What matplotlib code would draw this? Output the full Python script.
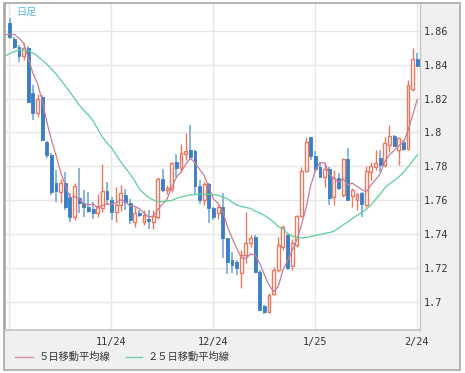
import matplotlib
matplotlib.use("Agg")
import matplotlib.pyplot as plt
import numpy as np
from matplotlib.patches import Rectangle
from matplotlib.lines import Line2D

# ---------------- data ----------------
opens = [1.8646, 1.855, 1.8505, 1.845, 1.8499, 1.8234, 1.8116, 1.8207, 1.7946, 1.7868,
         1.7705, 1.7652, 1.7705, 1.7622, 1.7505, 1.7613, 1.7587, 1.7564, 1.7548, 1.7525,
         1.7554, 1.7658, 1.7603, 1.7534, 1.7574, 1.7632, 1.7583, 1.7475, 1.7527, 1.7475,
         1.7494, 1.7475, 1.7504, 1.7729, 1.7661, 1.7665, 1.7824, 1.7794, 1.7876, 1.7896,
         1.789, 1.7684, 1.7602, 1.7696, 1.7553, 1.7524, 1.756, 1.7378, 1.725, 1.724,
         1.7172, 1.728, 1.735, 1.7387, 1.7181, 1.6979, 1.6946, 1.705, 1.7191, 1.7327,
         1.7397, 1.7215, 1.7338, 1.7509, 1.7775, 1.7972, 1.7862, 1.7799, 1.774, 1.7783,
         1.7622, 1.7731, 1.7632, 1.7842, 1.7626, 1.7603, 1.7642, 1.7574, 1.7769, 1.7795,
         1.7852, 1.7809, 1.7926, 1.7979, 1.7897, 1.7946, 1.7901, 1.8255, 1.8431]
highs = [1.8672, 1.856, 1.8515, 1.8525, 1.8509, 1.828, 1.8226, 1.8219, 1.7952, 1.7877,
         1.7779, 1.7725, 1.7766, 1.7644, 1.7701, 1.7789, 1.7662, 1.7648, 1.7591, 1.764,
         1.7815, 1.7711, 1.7622, 1.7681, 1.769, 1.767, 1.7607, 1.7564, 1.7543, 1.7543,
         1.7543, 1.7543, 1.7739, 1.7788, 1.769, 1.7827, 1.7876, 1.7935, 1.7998, 1.8043,
         1.7896, 1.772, 1.771, 1.77, 1.7563, 1.7573, 1.7642, 1.7378, 1.7297, 1.725,
         1.7309, 1.7534, 1.7397, 1.7397, 1.7191, 1.6985, 1.7056, 1.7211, 1.7387, 1.7456,
         1.7409, 1.7372, 1.7515, 1.7799, 1.7972, 1.7975, 1.7893, 1.7828, 1.7819, 1.7799,
         1.7779, 1.776, 1.7848, 1.7907, 1.7672, 1.7646, 1.7652, 1.7803, 1.7828, 1.7897,
         1.7897, 1.7975, 1.8044, 1.7985, 1.7975, 1.7956, 1.8309, 1.8495, 1.8469]
lows = [1.8548, 1.849, 1.8417, 1.8426, 1.8174, 1.8074, 1.8089, 1.7948, 1.7848, 1.7632,
        1.7593, 1.7587, 1.7544, 1.7475, 1.7485, 1.7525, 1.7505, 1.7526, 1.7493, 1.7505,
        1.7534, 1.7574, 1.7485, 1.7475, 1.754, 1.7546, 1.7462, 1.7446, 1.75, 1.7455,
        1.7435, 1.7435, 1.7494, 1.7651, 1.7641, 1.7651, 1.7739, 1.7769, 1.7837, 1.7837,
        1.7641, 1.7582, 1.7573, 1.7465, 1.7484, 1.7494, 1.726, 1.7168, 1.7173, 1.7162,
        1.7084, 1.7232, 1.7326, 1.7173, 1.695, 1.6932, 1.694, 1.7044, 1.7181, 1.7309,
        1.7191, 1.7191, 1.7326, 1.7503, 1.7769, 1.7838, 1.7769, 1.7731, 1.7681, 1.7574,
        1.7574, 1.7662, 1.7623, 1.7603, 1.7564, 1.7544, 1.7505, 1.7564, 1.7721, 1.7779,
        1.7769, 1.7799, 1.7887, 1.7916, 1.7809, 1.7893, 1.7897, 1.8245, 1.8387]
closes = [1.856, 1.8503, 1.845, 1.850, 1.8181, 1.8113, 1.8197, 1.7956, 1.7868, 1.7652,
          1.7656, 1.7705, 1.7564, 1.7505, 1.7685, 1.7584, 1.756, 1.754, 1.7525, 1.7567,
          1.7658, 1.7607, 1.7534, 1.7574, 1.7646, 1.7593, 1.7485, 1.7525, 1.7512, 1.7514,
          1.7478, 1.7508, 1.7729, 1.7661, 1.7676, 1.7822, 1.7794, 1.788, 1.7892, 1.7857,
          1.7684, 1.7602, 1.7696, 1.7553, 1.7504, 1.7559, 1.7378, 1.7238, 1.722, 1.7201,
          1.728, 1.735, 1.738, 1.7181, 1.6956, 1.6946, 1.7044, 1.7191, 1.7338, 1.7446,
          1.7201, 1.735, 1.7509, 1.7775, 1.7946, 1.7862, 1.7784, 1.774, 1.7783, 1.7613,
          1.7731, 1.7672, 1.7842, 1.7603, 1.7662, 1.7636, 1.7579, 1.7775, 1.7803, 1.7819,
          1.7809, 1.7936, 1.7979, 1.7921, 1.7969, 1.7901, 1.8279, 1.8431, 1.8391]
# closes of the five sessions before the visible window (for the 5-day average)
prior_closes = [1.853, 1.8523, 1.855, 1.865, 1.8617]

# 25-day moving average (from the session before the window)
ma25 = [1.845, 1.8465, 1.8476, 1.8485, 1.8486, 1.8479, 1.8468, 1.8450, 1.8426, 1.8403,
        1.8374, 1.8344, 1.8309, 1.8274, 1.8238, 1.8200, 1.8162, 1.8129, 1.8103, 1.8068,
        1.8021, 1.7974, 1.7938, 1.7909, 1.7868, 1.7826, 1.7791, 1.7756, 1.7715, 1.7668,
        1.7641, 1.7618, 1.7603, 1.7594, 1.7593, 1.7597, 1.7601, 1.7612, 1.7621, 1.7626,
        1.7632, 1.7635, 1.7638, 1.7638, 1.7636, 1.7634, 1.7631, 1.7621, 1.7611, 1.7591,
        1.7574, 1.7565, 1.7559, 1.7553, 1.7538, 1.7526, 1.7512, 1.7494, 1.7474, 1.7447,
        1.7432, 1.7406, 1.7391, 1.7382, 1.7379, 1.7382, 1.7388, 1.7394, 1.7400, 1.7406,
        1.7412, 1.7418, 1.7438, 1.7456, 1.7474, 1.7494, 1.7512, 1.7529, 1.7547, 1.7574,
        1.7606, 1.7638, 1.7674, 1.7697, 1.7718, 1.7738, 1.7765, 1.7797, 1.7832, 1.7868]

month_positions = [-0.15, 21.9, 43.9, 65.9, 87.9]
month_labels = ["", "11/24", "12/24", "1/25", "2/24"]
y_ticks = [1.70, 1.72, 1.74, 1.76, 1.78, 1.80, 1.82, 1.84, 1.86]
y_labels = ["1.7", "1.72", "1.74", "1.76", "1.78", "1.8", "1.82", "1.84", "1.86"]
legend_labels = ["５日移動平均線", "２５日移動平均線"]
period_label = "日足"

# ---------------- figure ----------------
W, H = 465, 373
fig = plt.figure(figsize=(W / 100, H / 100), dpi=100)
fig.patch.set_facecolor("white")

def fx(px):
    return px / W

def fy(py):
    return 1 - py / H

# outer gray panel (behind the axes)
bg = fig.add_axes([0, 0, 1, 1], zorder=-5)
bg.set_xlim(0, W)
bg.set_ylim(H, 0)
bg.axis("off")
bg.add_patch(Rectangle((4, 3), 456, 367, facecolor="#f0f0f0",
                       edgecolor="#a8a8a8", linewidth=1.2))

ax = fig.add_axes([fx(5), fy(330), fx(420) - fx(5), fy(4) - fy(330)], zorder=1)
ax.set_facecolor("white")
ax.set_xlim(-1.02, 88.6)
ax.set_ylim(1.6838, 1.8756)

ax.spines["top"].set_visible(False)
ax.spines["left"].set_color("#a8a8a8")
ax.spines["left"].set_linewidth(1.2)
ax.spines["bottom"].set_color("#c4c4c4")
ax.spines["bottom"].set_linewidth(1.2)
ax.spines["right"].set_color("#c4c4c4")
ax.spines["right"].set_linewidth(1.0)

ax.set_yticks(y_ticks)
ax.set_yticklabels(y_labels)
ax.yaxis.tick_right()
ax.set_xticks(month_positions)
ax.set_xticklabels(month_labels)
ax.tick_params(axis="y", length=0, pad=2.5, labelsize=7.3, labelcolor="#333333")
ax.tick_params(axis="x", length=0, pad=5, labelsize=7.3, labelcolor="#333333")
for lab in ax.get_xticklabels() + ax.get_yticklabels():
    lab.set_fontfamily("DejaVu Sans Mono")
ax.grid(True, color="#e6e6e6", linewidth=1.0, zorder=0)
ax.set_axisbelow(True)

# ---------------- candles ----------------
n = len(closes)
idx = np.arange(n)
o = np.array(opens); h = np.array(highs); l = np.array(lows); c = np.array(closes)
up = c >= o
blue = "#3b7ec3"
blue_wick = "#7fb0de"
red = "#e8785f"

ax.vlines(idx[~up], l[~up], h[~up], color=blue_wick, linewidth=1.3, zorder=2)
ax.vlines(idx[up], l[up], h[up], color=red, linewidth=1.0, zorder=2)
bw = 0.62
body_low = np.minimum(o, c)
body_h = np.maximum(np.abs(c - o), 0.0004)
ax.bar(idx[~up], body_h[~up], bottom=body_low[~up], width=bw, color=blue,
       edgecolor=blue, linewidth=0.6, zorder=3)
ax.bar(idx[up], body_h[up], bottom=body_low[up], width=bw, color="white",
       edgecolor=red, linewidth=1.0, zorder=3)

# ---------------- moving averages ----------------
all_closes = np.array(prior_closes + closes)
ma5 = np.convolve(all_closes, np.ones(5) / 5, mode="valid")  # starts one session before window
x_ma = np.arange(-1, n)
ma5_color = "#c97b97"
ma25_color = "#5ccf98"
ax.plot(x_ma, ma5, color=ma5_color, linewidth=0.9, zorder=4)
ax.plot(x_ma, ma25, color=ma25_color, linewidth=0.9, zorder=4)

# period label
fig.text(fx(16), fy(12), period_label, color="#55b9e9", fontsize=7.3,
         family=["Noto Sans CJK JP", "DejaVu Sans"], va="center", ha="left", zorder=5)

# ---------------- legend ----------------
ly = fy(357)
fig.lines.append(Line2D([fx(15), fx(33)], [ly, ly], transform=fig.transFigure,
                        color="#d88ea6", linewidth=1.0))
fig.text(fx(39), ly, legend_labels[0], fontsize=7.4, color="#333333",
         family=["Noto Sans CJK JP", "DejaVu Sans"], va="center", ha="left")
fig.lines.append(Line2D([fx(126), fx(142)], [ly, ly], transform=fig.transFigure,
                        color="#6fd3a4", linewidth=1.0))
fig.text(fx(148), ly, legend_labels[1], fontsize=7.4, color="#333333",
         family=["Noto Sans CJK JP", "DejaVu Sans"], va="center", ha="left")

fig.savefig("out.png", dpi=100)
